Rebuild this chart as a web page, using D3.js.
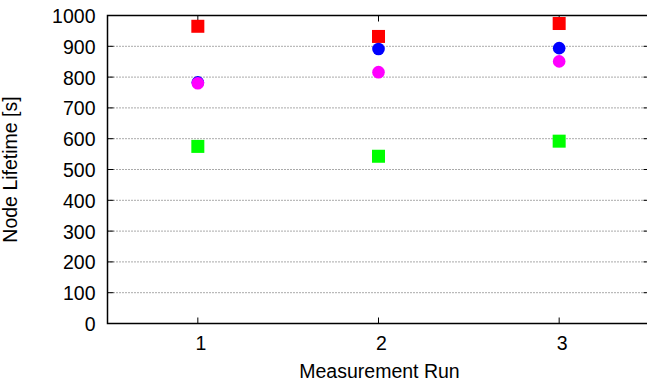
<!DOCTYPE html>
<html lang="en">
<head>
<meta charset="utf-8">
<script src="https://d3js.org/d3.v7.min.js"></script>
<style>
  body { margin: 0; background: #fff; }
  text { font-family: "Liberation Sans", Arial, sans-serif; font-size: 19.5px; fill: #000; }
</style>
</head>
<body>
<div id="chart"></div>
<script>
// measurement runs and node lifetimes [s]
const runs = [1, 2, 3];
const redSquares = [965, 932, 974];
const greenSquares = [575, 543, 592];
const blueCircles = [783, 891, 894];
const magentaCircles = [780, 816, 851];
const yTicks = [0, 100, 200, 300, 400, 500, 600, 700, 800, 900, 1000];

const width = 647, height = 381;
const plotLeft = 107.5, plotRight = 649.5, plotTop = 15.5, plotBottom = 323.5;

const x = d3.scaleLinear().domain([0.5, 3.5]).range([plotLeft, plotRight]);
const y = d3.scaleLinear().domain([0, 1000]).range([plotBottom, plotTop]);

const svg = d3.select("#chart").append("svg")
  .attr("width", width)
  .attr("height", height);

// grid lines
svg.append("g")
  .selectAll("line")
  .data(yTicks.slice(1, -1))
  .enter().append("line")
  .attr("x1", plotLeft).attr("x2", plotRight)
  .attr("y1", d => y(d)).attr("y2", d => y(d))
  .attr("stroke", "#555")
  .attr("stroke-width", 1)
  .attr("stroke-dasharray", "1,2");

// tick marks (inward, mirrored)
const ticks = svg.append("g").attr("stroke", "#000").attr("stroke-width", 1);
yTicks.forEach(t => {
  ticks.append("line").attr("x1", plotLeft).attr("x2", plotLeft + 6).attr("y1", y(t)).attr("y2", y(t));
  ticks.append("line").attr("x1", plotRight - 6).attr("x2", plotRight).attr("y1", y(t)).attr("y2", y(t));
});
runs.forEach(r => {
  ticks.append("line").attr("x1", x(r)).attr("x2", x(r)).attr("y1", plotBottom).attr("y2", plotBottom - 6);
  ticks.append("line").attr("x1", x(r)).attr("x2", x(r)).attr("y1", plotTop).attr("y2", plotTop + 6);
});

// frame
svg.append("rect")
  .attr("x", plotLeft).attr("y", plotTop)
  .attr("width", plotRight - plotLeft).attr("height", plotBottom - plotTop)
  .attr("fill", "none")
  .attr("stroke", "#000")
  .attr("stroke-width", 1.5);

// tick labels
svg.append("g")
  .selectAll("text")
  .data(yTicks)
  .enter().append("text")
  .attr("x", plotLeft - 12)
  .attr("y", d => y(d) + 7.5)
  .attr("text-anchor", "end")
  .text(d => d);

svg.append("g")
  .selectAll("text")
  .data(runs)
  .enter().append("text")
  .attr("x", d => x(d) + 3)
  .attr("y", 350)
  .attr("text-anchor", "middle")
  .text(d => d);

// axis titles
svg.append("text")
  .attr("x", 379.5)
  .attr("y", 378)
  .attr("text-anchor", "middle")
  .text("Measurement Run");

svg.append("text")
  .attr("transform", `translate(17,${(plotTop + plotBottom) / 2}) rotate(-90)`)
  .attr("text-anchor", "middle")
  .text("Node Lifetime [s]");

// points
const size = 13;
function squares(values, color) {
  svg.append("g")
    .selectAll("rect")
    .data(values)
    .enter().append("rect")
    .attr("x", (d, i) => x(runs[i]) - size / 2)
    .attr("y", d => y(d) - size / 2)
    .attr("width", size).attr("height", size)
    .attr("fill", color);
}
function circles(values, color) {
  svg.append("g")
    .selectAll("circle")
    .data(values)
    .enter().append("circle")
    .attr("cx", (d, i) => x(runs[i]))
    .attr("cy", d => y(d))
    .attr("r", 6.3)
    .attr("fill", color);
}
squares(redSquares, "#ff0000");
squares(greenSquares, "#00ff00");
circles(blueCircles, "#0000ff");
circles(magentaCircles, "#ff00ff");
</script>
</body>
</html>
